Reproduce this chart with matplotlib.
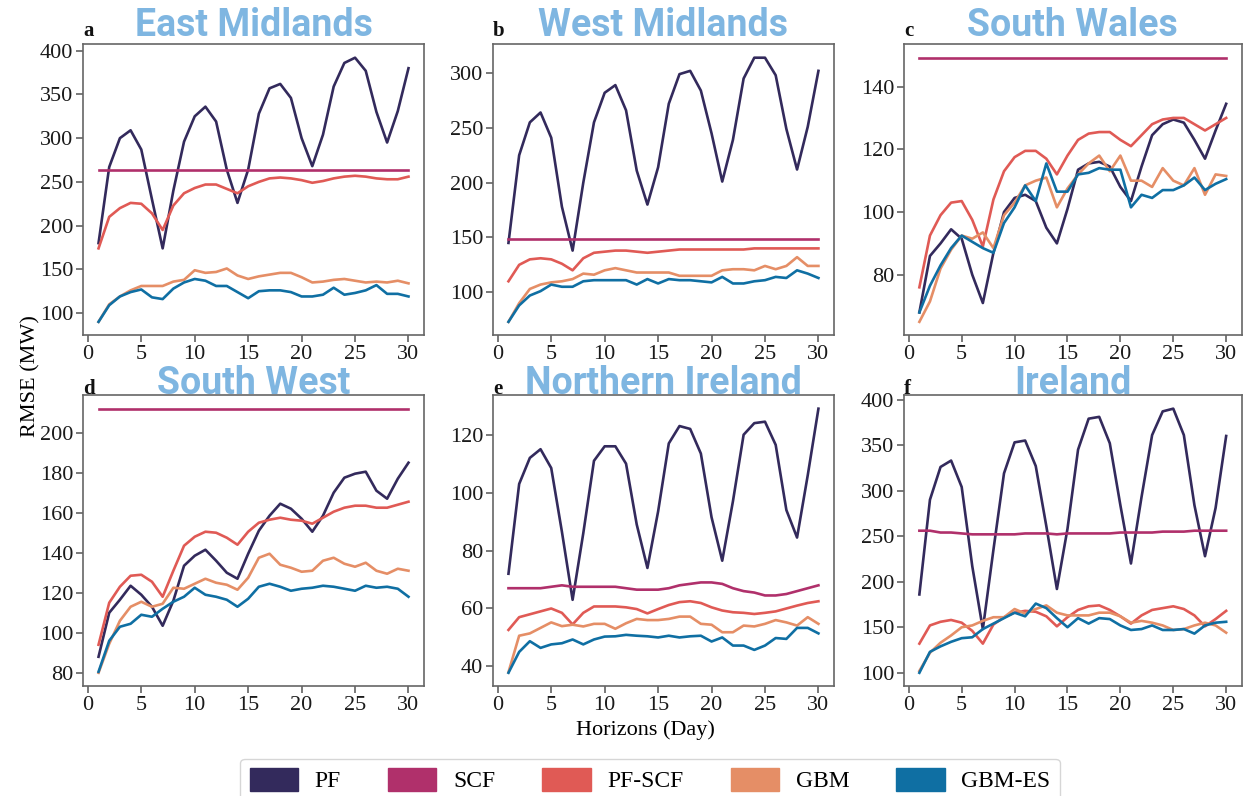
import numpy as np
import matplotlib
matplotlib.use("Agg")
import matplotlib.pyplot as plt
from matplotlib.patches import Patch
from matplotlib.ticker import MultipleLocator

plt.rcParams['font.family'] = ['Liberation Serif', 'DejaVu Serif']

days = list(range(1, 31))
models = ['PF', 'SCF', 'PF-SCF', 'GBM', 'GBM-ES']
colors = ['#332a5c', '#b0306b', '#e05a55', '#e58e66', '#0f6fa3']
regions = ['East Midlands', 'West Midlands', 'South Wales',
           'South West', 'Northern Ireland', 'Ireland']
letters = ['a', 'b', 'c', 'd', 'e', 'f']
ytick_step = [50, 50, 20, 20, 20, 50]

# East Midlands
em_pf = [180, 267, 300, 309, 287, 230, 174, 240, 296, 325, 336, 319, 264, 226, 264,
         328, 357, 362, 346, 300, 268, 304, 359, 386, 392, 377, 330, 295, 331, 380]
em_scf = [264] * 30
em_pfscf = [174, 210, 220, 226, 225, 214, 195, 223, 237, 243, 247, 247, 242, 237, 245,
            250, 254, 255, 254, 252, 249, 251, 254, 256, 257, 256, 254, 253, 253, 256]
em_gbm = [90, 110, 119, 126, 131, 131, 131, 136, 138, 149, 146, 147, 151, 143, 139,
          142, 144, 146, 146, 141, 135, 136, 138, 139, 137, 135, 136, 135, 137, 134]
em_gbmes = [90, 109, 119, 124, 127, 118, 116, 128, 135, 139, 137, 131, 131, 124, 117,
            125, 126, 126, 124, 119, 119, 121, 129, 121, 123, 126, 132, 122, 122, 119]

# West Midlands
wm_pf = [145, 225, 255, 264, 241, 178, 138, 200, 255, 282, 289, 266, 211, 180, 214,
         272, 299, 302, 284, 245, 201, 239, 295, 314, 314, 298, 249, 212, 251, 302]
wm_scf = [149] * 30
wm_pfscf = [110, 125, 130, 131, 130, 126, 120, 131, 136, 137, 138, 138, 137, 136, 137,
            138, 139, 139, 139, 139, 139, 139, 139, 140, 140, 140, 140, 140, 140, 140]
wm_gbm = [73, 90, 103, 107, 109, 110, 112, 117, 116, 120, 122, 120, 118, 118, 118,
          118, 115, 115, 115, 115, 120, 121, 121, 120, 124, 121, 124, 132, 124, 124]
wm_gbmes = [73, 88, 97, 101, 107, 105, 105, 110, 111, 111, 111, 111, 107, 112, 108,
            112, 111, 111, 110, 109, 114, 108, 108, 110, 111, 114, 113, 120, 117, 113]

# South Wales
sw_pf = [68, 86, 90, 94.5, 91.5, 80, 71, 87, 100, 104.5, 105.5, 103.5, 95, 90, 101,
         113.5, 115.5, 116, 114.5, 108, 103.5, 114.5, 124.5, 128, 129.5, 128.5, 123, 117, 126, 134.5]
sw_scf = [149.2] * 30
sw_pfscf = [76, 92.5, 99, 103, 103.5, 97.5, 89, 104, 113, 117.5, 119.5, 119.5, 117, 112, 118,
            123, 125, 125.5, 125.5, 123, 121, 124.5, 128, 129.5, 130, 130, 128, 126, 128, 130]
sw_gbm = [65, 71.5, 82, 88, 92.5, 91.5, 93.5, 88.5, 99, 103, 108.5, 110, 111, 101.5, 107.5,
          112, 115.5, 118, 113, 118, 110, 110, 108, 114, 110, 108.5, 114, 105.5, 112, 111.5]
sw_gbmes = [68, 76.5, 83, 88.5, 92.5, 90.5, 88.5, 87, 96.5, 101.5, 108.5, 103.5, 115.5, 106.5, 106.5,
            112, 112.5, 114, 113.5, 113.5, 101.5, 105.5, 104.5, 107, 107, 108.5, 111, 107, 109, 110.5]

# South West
so_pf = [88, 110, 116.5, 123.5, 119, 113, 103.5, 116, 133.5, 138.5, 141.5, 136, 130, 127, 139.5,
         151, 158.5, 164.5, 162, 157, 150.5, 158.5, 170, 177.5, 179.5, 180.5, 171, 167, 177, 185]
so_scf = [212] * 30
so_pfscf = [94, 115, 123, 128.5, 129, 125.5, 118, 131, 143.5, 148, 150.5, 150, 147.5, 144, 150.5,
            155, 156.5, 157.5, 156.5, 156, 154.5, 157.5, 160.5, 162.5, 163.5, 163.5, 162.5, 162.5, 164, 165.5]
so_gbm = [80, 94.5, 106, 113, 115.5, 113, 114.5, 122.5, 122, 124.5, 127, 125, 124, 121.5, 127.5,
          137.5, 139.5, 134, 132.5, 130.5, 131, 136, 137.5, 134.5, 133, 135, 131, 129.5, 132, 131]
so_gbmes = [80.5, 96, 103, 104.5, 109, 108, 112, 115.5, 118, 122.5, 119, 118, 116.5, 113, 117,
            123, 124.5, 123, 121, 122, 122.5, 123.5, 123, 122, 121, 123.5, 122.5, 123, 122, 118]

# Northern Ireland
ni_pf = [72, 103, 112, 115, 108.5, 86.5, 63, 86, 111, 116, 116, 110, 89, 74, 93.5,
         117, 123, 122, 113.5, 91.5, 76.5, 97, 120, 124, 124.5, 116.5, 94, 84.5, 106, 129]
ni_scf = [67, 67, 67, 67, 67.5, 68, 67.5, 67.5, 67.5, 67.5, 67.5, 67, 66.5, 66.5, 66.5,
          67, 68, 68.5, 69, 69, 68.5, 67, 66, 65.5, 64.5, 64.5, 65, 66, 67, 68]
ni_pfscf = [52.6, 57, 58, 59, 60, 58.5, 54.5, 58.5, 60.7, 60.7, 60.7, 60.4, 59.8, 58.3, 59.8,
            61.2, 62.2, 62.5, 61.9, 60.4, 59.3, 58.7, 58.5, 58.1, 58.5, 59, 60, 61, 61.9, 62.5]
ni_gbm = [38, 50.6, 51.4, 53.3, 55.2, 53.9, 54.4, 53.8, 54.7, 54.7, 53, 54.9, 56.4, 56, 56,
          56.4, 57.2, 57.2, 54.7, 54.4, 51.8, 51.8, 54.1, 53.8, 54.7, 56, 55.2, 54.1, 57, 54.7]
ni_gbmes = [37.8, 45, 48.7, 46.4, 47.6, 48, 49.3, 47.6, 49.3, 50.3, 50.4, 50.9, 50.6, 50.4, 50,
            50.6, 50, 50.4, 50.6, 48.6, 50, 47.2, 47.2, 45.7, 47.2, 49.8, 49.5, 53.3, 53.3, 51.4]

# Ireland
ie_pf = [186, 290, 326, 333, 304, 217, 148, 235, 319, 353, 355, 327, 261, 192, 258,
         345, 379, 381, 352, 284, 220, 293, 361, 387, 390, 361, 284, 228, 281, 360]
ie_scf = [256, 256, 254, 254, 253, 252, 252, 252, 252, 252, 253, 253, 253, 252, 253,
          253, 253, 253, 253, 254, 254, 254, 254, 255, 255, 255, 256, 256, 256, 256]
ie_pfscf = [132, 152, 156, 158, 155, 146, 132, 153, 161, 166, 168, 167, 162, 151, 161,
            169, 173, 174, 169, 162, 154, 163, 169, 171, 173, 170, 163, 151, 159, 168]
ie_gbm = [102, 122, 133, 141, 150, 152, 157, 161, 161, 170, 165, 170, 174, 166, 163,
          163, 163, 166, 166, 162, 155, 157, 155, 152, 147, 148, 152, 155, 152, 144]
ie_gbmes = [100, 123, 129, 134, 138, 139, 148, 154, 160, 166, 162, 176, 171, 160, 150,
            160, 154, 160, 159, 152, 147, 148, 152, 147, 147, 148, 143, 152, 155, 156]

panels = [
    [em_pf, em_scf, em_pfscf, em_gbm, em_gbmes],
    [wm_pf, wm_scf, wm_pfscf, wm_gbm, wm_gbmes],
    [sw_pf, sw_scf, sw_pfscf, sw_gbm, sw_gbmes],
    [so_pf, so_scf, so_pfscf, so_gbm, so_gbmes],
    [ni_pf, ni_scf, ni_pfscf, ni_gbm, ni_gbmes],
    [ie_pf, ie_scf, ie_pfscf, ie_gbm, ie_gbmes],
]

fig = plt.figure(figsize=(12.43, 7.96), dpi=100)

lefts = [0.0668, 0.3966, 0.7273]
bottoms = [0.5791, 0.1382]
w, h = 0.2743, 0.3650

for i in range(6):
    r, c = divmod(i, 3)
    ax = fig.add_axes([lefts[c], bottoms[r], w if c < 2 else 0.2715, h])
    for series, col in zip(panels[i], colors):
        ax.plot(days, series, color=col, lw=1.9)
    ax.xaxis.set_major_locator(MultipleLocator(5))
    ax.set_xlim(left=-0.45)
    ax.yaxis.set_major_locator(MultipleLocator(ytick_step[i]))
    ax.tick_params(labelsize=16, length=5, width=1.1, color='#555555',
                   labelcolor='#1a1a1a', pad=2)
    for s in ax.spines.values():
        s.set_color('#666666')
        s.set_linewidth(1.2)
    ty = 1.028 if r == 0 else 1.006
    ax.text(0.5, ty, regions[i], transform=ax.transAxes, ha='center', va='baseline',
            fontsize=27, fontweight='bold', color='#7fb6e1', family=['Roboto', 'DejaVu Sans'])
    ax.text(0.0, ty, letters[i], transform=ax.transAxes, ha='left', va='baseline',
            fontsize=15, fontweight='bold', color='#111111')

fig.text(0.519, 0.083, 'Horizons (Day)', ha='center', va='center', fontsize=16)
fig.text(0.025, 0.528, 'RMSE (MW)', ha='center', va='center', rotation=90, fontsize=16)

handles = [Patch(facecolor=col, edgecolor=col) for col in colors]
fig.legend(handles, models, loc='upper center', bbox_to_anchor=(0.523, 0.047), ncol=5,
           fontsize=17, handlelength=2.05, handleheight=1.1, handletextpad=0.7,
           columnspacing=2.0, frameon=True, fancybox=True, edgecolor='#cccccc',
           borderpad=0.4, borderaxespad=0)

fig.savefig('out.png', dpi=100)
